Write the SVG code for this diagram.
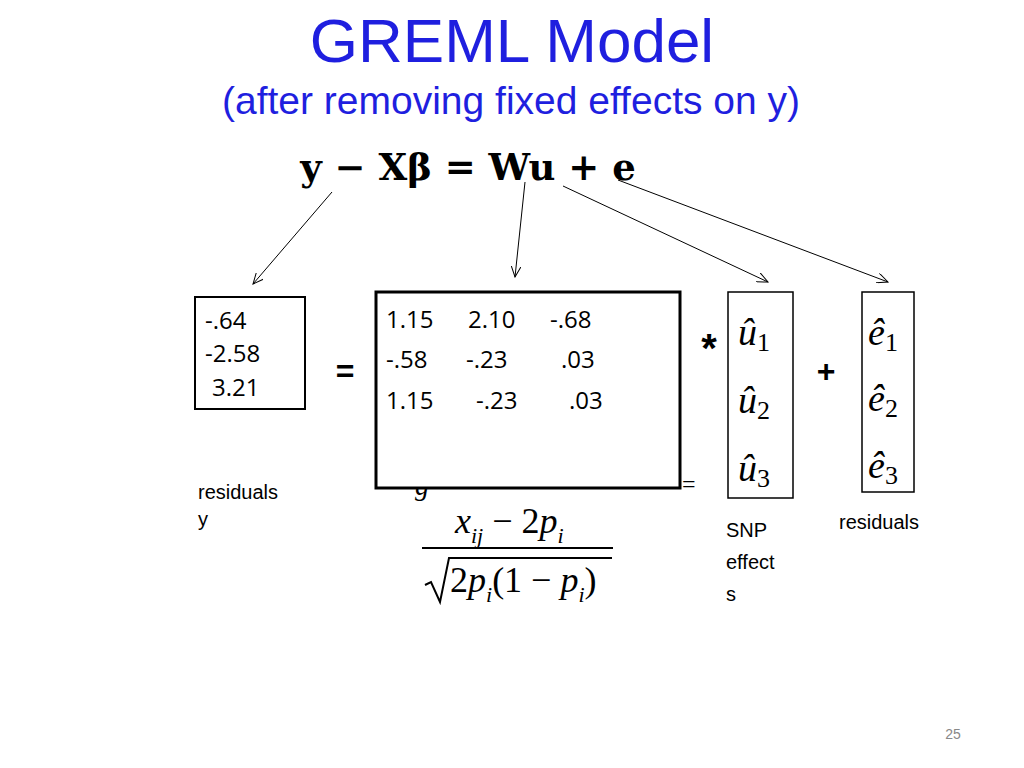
<svg xmlns="http://www.w3.org/2000/svg" width="1024" height="768" viewBox="0 0 1024 768">
<defs>
<marker id="ah" markerWidth="12" markerHeight="10" refX="11" refY="5" orient="auto" markerUnits="userSpaceOnUse">
<path d="M0,0 L11,5 L0,10" fill="none" stroke="#000" stroke-width="1"/>
</marker>
<style>
.s{font-family:"Liberation Sans",Arial,sans-serif}
.c{font-family:"Open Sans","DejaVu Sans",sans-serif;font-size:24px}
.m{font-family:"Liberation Serif","Times New Roman",serif;font-style:italic}
.b{fill:#fff;stroke:#000}
</style>
</defs>
<rect width="1024" height="768" fill="#fff"/>
<text class="s" x="512" y="62" font-size="62" fill="#1f1fdf" text-anchor="middle">GREML Model</text>
<text class="s" x="511" y="114" font-size="39" fill="#1f1fdf" text-anchor="middle">(after removing fixed effects on y)</text>
<text x="468" y="180" font-family="'DejaVu Serif',serif" font-weight="bold" font-size="37" text-anchor="middle">y − Xβ = Wu + e</text>
<g id="connectors" stroke="#000" stroke-width="1" fill="none" marker-end="url(#ah)">
<line x1="332" y1="192" x2="253" y2="284"/>
<line x1="525" y1="182" x2="515" y2="277"/>
<line x1="563" y1="186" x2="768" y2="282"/>
<line x1="618" y1="180" x2="888" y2="282"/>
</g>
<g id="y">
<rect class="b" x="195" y="297" width="110" height="112" stroke-width="2"/>
<text class="c" x="205" y="329" font-size="20">-.64</text>
<text class="c" x="205" y="362" font-size="20">-2.58</text>
<text class="c" x="212" y="396" font-size="20">3.21</text>
</g>
<text class="s" x="345" y="382" font-size="32" font-weight="bold" text-anchor="middle">=</text>
<g id="W">
<text class="m" x="415" y="495" font-size="28" font-style="normal">g</text>
<text x="682" y="492" font-family="Liberation Serif" font-size="24">=</text>
<rect class="b" x="376" y="292" width="304" height="196" stroke-width="3"/>
<g class="c">
<text x="386" y="328">1.15</text><text x="468" y="328">2.10</text><text x="550" y="328">-.68</text>
<text x="386" y="368">-.58</text><text x="466" y="368">-.23</text><text x="561" y="368">.03</text>
<text x="386" y="409">1.15</text><text x="476" y="409">-.23</text><text x="569" y="409">.03</text>
</g>
</g>
<g id="formula" class="m" font-size="36">
<text x="455" y="533">x<tspan font-size="22" dy="10">ij</tspan><tspan dy="-10" font-style="normal"> − 2</tspan>p<tspan font-size="22" dy="10">i</tspan></text>
<line x1="422" y1="548" x2="613" y2="548" stroke="#000" stroke-width="2"/>
<path d="M425,585 L431,582 L440,602 L449,558 L612,558" fill="none" stroke="#000" stroke-width="2"/>
<text x="450" y="592"><tspan font-style="normal">2</tspan>p<tspan font-size="22" dy="10">i</tspan><tspan dy="-10" font-style="normal">(1 − </tspan>p<tspan font-size="22" dy="10">i</tspan><tspan dy="-10" font-style="normal">)</tspan></text>
</g>
<text class="s" x="709" y="362" font-size="40" font-weight="bold" text-anchor="middle">*</text>
<g id="u" class="m" font-size="38">
<rect class="b" x="728" y="292" width="65" height="206" stroke-width="1.5"/>
<text x="738" y="345">û<tspan font-size="26" dy="6" font-style="normal">1</tspan></text>
<text x="738" y="413">û<tspan font-size="26" dy="6" font-style="normal">2</tspan></text>
<text x="738" y="481">û<tspan font-size="26" dy="6" font-style="normal">3</tspan></text>
</g>
<text class="s" x="826" y="382" font-size="32" font-weight="bold" text-anchor="middle">+</text>
<g id="e" class="m" font-size="38">
<rect class="b" x="862" y="292" width="52" height="200" stroke-width="1.5"/>
<text x="868" y="345">ê<tspan font-size="26" dy="6" font-style="normal">1</tspan></text>
<text x="868" y="411">ê<tspan font-size="26" dy="6" font-style="normal">2</tspan></text>
<text x="868" y="478">ê<tspan font-size="26" dy="6" font-style="normal">3</tspan></text>
</g>
<g class="s" font-size="20">
<text x="198" y="499">residuals</text>
<text x="198" y="526">y</text>
<text x="726" y="537">SNP</text>
<text x="726" y="569">effect</text>
<text x="726" y="601">s</text>
<text x="839" y="529">residuals</text>
</g>
<text class="s" x="953" y="739" font-size="14" fill="#888" text-anchor="middle">25</text>
</svg>
